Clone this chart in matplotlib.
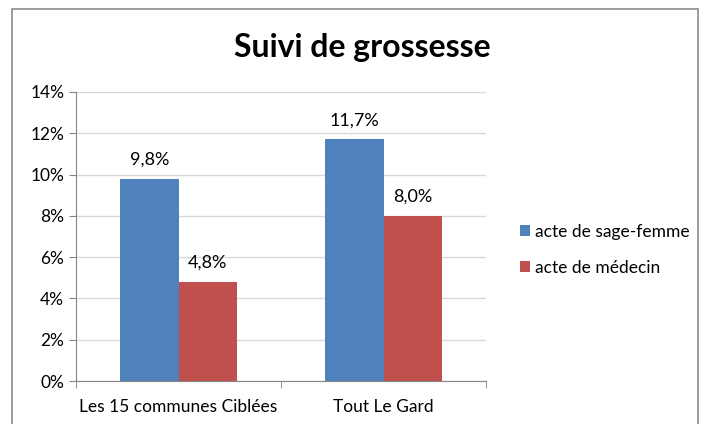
import matplotlib.pyplot as plt
import numpy as np
from matplotlib.patches import Rectangle

plt.rcParams['font.family'] = ['Lato', 'DejaVu Sans']

# chart data
categories = ['Les 15 communes Ciblées', 'Tout Le Gard']
series_names = ['acte de sage-femme', 'acte de médecin']
sage_femme = [9.8, 11.7]
medecin = [4.8, 8.0]
colors = ['#4F81BD', '#C0504D']

fig = plt.figure(figsize=(7.01, 4.24), dpi=100)

# outer chart frame
fig.patches.append(Rectangle((12 / 701, -0.1), 686 / 701, 1.1 - 9 / 424,
                             transform=fig.transFigure, fill=False,
                             edgecolor='#8c8c8c', linewidth=1.2))

ax = fig.add_axes([76 / 701, 1 - 381 / 424, 410 / 701, (381 - 92) / 424])

x = np.arange(len(categories))
w = 0.283
b1 = ax.bar(x - w / 2, sage_femme, w, color=colors[0], label=series_names[0])
b2 = ax.bar(x + w / 2, medecin, w, color=colors[1], label=series_names[1])

for bars, vals in [(b1, sage_femme), (b2, medecin)]:
    for bar, v in zip(bars, vals):
        ax.annotate(f'{v:.1f}%'.replace('.', ','),
                    (bar.get_x() + bar.get_width() / 2, v),
                    xytext=(0, 8), textcoords='offset points',
                    ha='center', va='bottom', fontsize=13)

ax.set_xlim(-0.5, 1.5)
ax.set_ylim(0, 14)
ax.set_yticks(range(0, 15, 2))
ax.set_yticklabels([f'{t}%' for t in range(0, 15, 2)], fontsize=12.5)
ax.set_xticks(x)
ax.set_xticklabels(categories, fontsize=12.5)
ax.set_xticks([-0.5, 0.5, 1.5], minor=True)
ax.tick_params(axis='x', which='major', length=0, pad=13)
ax.tick_params(axis='x', which='minor', length=5, color='#868686')
ax.tick_params(axis='y', length=5, color='#868686', direction='out')

ax.grid(axis='y', color='#d9d9d9', linewidth=1)
ax.set_axisbelow(True)
for s in ['top', 'right']:
    ax.spines[s].set_visible(False)
ax.spines['left'].set_color('#868686')
ax.spines['bottom'].set_color('#868686')

fig.text(362 / 701, 1 - 47 / 424, 'Suivi de grossesse', ha='center', va='center',
         fontsize=23, fontweight='bold')

fig.legend(loc='center left', bbox_to_anchor=(504 / 701, 1 - 250 / 424),
           frameon=False, fontsize=12.5, handlelength=0.6, handleheight=0.6,
           handletextpad=0.3, labelspacing=1.15)

plt.savefig('out.png', dpi=100)
